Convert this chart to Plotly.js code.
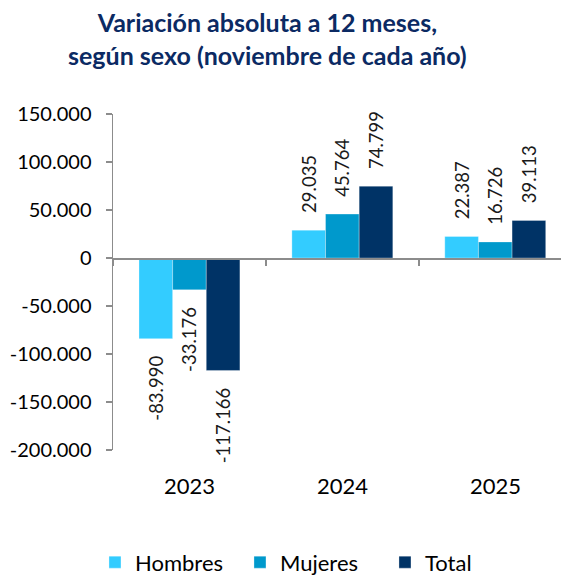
<!DOCTYPE html>
<html>
<head>
<meta charset="utf-8">
<script src="https://cdn.plot.ly/plotly-3.0.1.min.js"></script>
<style>html,body{margin:0;padding:0;background:#fff;}#chart{width:561px;height:575px;}</style>
</head>
<body>
<div id="chart"></div>
<script>
const categories = ['2023', '2024', '2025'];
const seriesNames = ['Hombres', 'Mujeres', 'Total'];
const hombres = [-83990, 29035, 22387];
const mujeres = [-33176, 45764, 16726];
const total = [-117166, 74799, 39113];
const yTickVals = [-200000, -150000, -100000, -50000, 0, 50000, 100000, 150000];
const yTickText = ['-200.000', '-150.000', '-100.000', '-50.000', '0', '50.000', '100.000', '150.000'];
const colors = ['#33CCFF', '#0099CC', '#003366'];

const yMin = -200000, yMax = 150000;
const FONT = 'Lato, "Open Sans", sans-serif';

function fmt(v) {
  const s = Math.abs(v).toString().replace(/\B(?=(\d{3})+(?!\d))/g, '.');
  return (v < 0 ? '-' : '') + s;
}
function label(v) {
  const pad = '\u00A0\u00A0\u00A0';
  return v < 0 ? fmt(v) + pad : pad + fmt(v);
}

const data = [hombres, mujeres, total].map((vals, i) => ({
  type: 'bar',
  name: seriesNames[i],
  x: categories,
  y: vals,
  marker: {color: colors[i], line: {color: 'rgba(255,255,255,0.6)', width: 0.5}},
  text: vals.map(label),
  textposition: 'outside',
  textangle: -90,
  constraintext: 'none',
  textfont: {family: FONT, size: 18.5, color: '#1a1a1a'},
  cliponaxis: false,
  hoverinfo: 'none'
}));

const layout = {
  width: 561,
  height: 575,
  margin: {l: 113, r: 0, t: 114, b: 125},
  paper_bgcolor: '#ffffff',
  plot_bgcolor: '#ffffff',
  font: {family: FONT, color: '#000000'},
  barmode: 'group',
  bargap: 0.34,
  bargroupgap: 0,
  showlegend: true,
  legend: {
    orientation: 'h',
    xref: 'container', x: 0.557, xanchor: 'center',
    yref: 'container', y: 0.022, yanchor: 'middle',
    font: {family: FONT, size: 22, color: '#000'},
    entrywidth: 100,
    traceorder: 'normal'
  },
  xaxis: {
    type: 'category',
    range: [-0.5, 2.43],
    anchor: 'free',
    position: (0 - yMin) / (yMax - yMin),
    showline: true, linecolor: '#8c8c8c', linewidth: 1.5,
    ticks: 'outside', tickson: 'boundaries', ticklen: 6, tickcolor: '#8c8c8c', tickwidth: 1.5,
    showticklabels: false,
    showgrid: false, zeroline: false, fixedrange: true
  },
  yaxis: {
    range: [yMin, yMax],
    tickvals: yTickVals,
    ticktext: yTickText,
    showline: true, linecolor: '#8c8c8c', linewidth: 1.5,
    ticks: 'outside', ticklen: 6, tickcolor: '#8c8c8c', tickwidth: 1.5,
    ticklabelstandoff: 10,
    tickfont: {family: FONT, size: 20, color: '#000'},
    showgrid: false, zeroline: false, fixedrange: true
  },
  annotations: categories.map((c, i) => ({
    x: i, xref: 'x', y: -0.105, yref: 'paper',
    text: c, showarrow: false,
    font: {family: FONT, size: 22, color: '#000'},
    xanchor: 'center', yanchor: 'middle'
  })).concat([{
    text: '<b>Variación absoluta a 12 meses,<br>según sexo (noviembre de cada año)</b>',
    xref: 'paper', x: 0.344, xanchor: 'center',
    yref: 'paper', y: 1.225, yanchor: 'middle',
    showarrow: false, align: 'center',
    font: {family: FONT, size: 25, color: '#0B2A63'}
  }])
};

Plotly.newPlot('chart', data, layout, {displayModeBar: false, staticPlot: true});
</script>
</body>
</html>
